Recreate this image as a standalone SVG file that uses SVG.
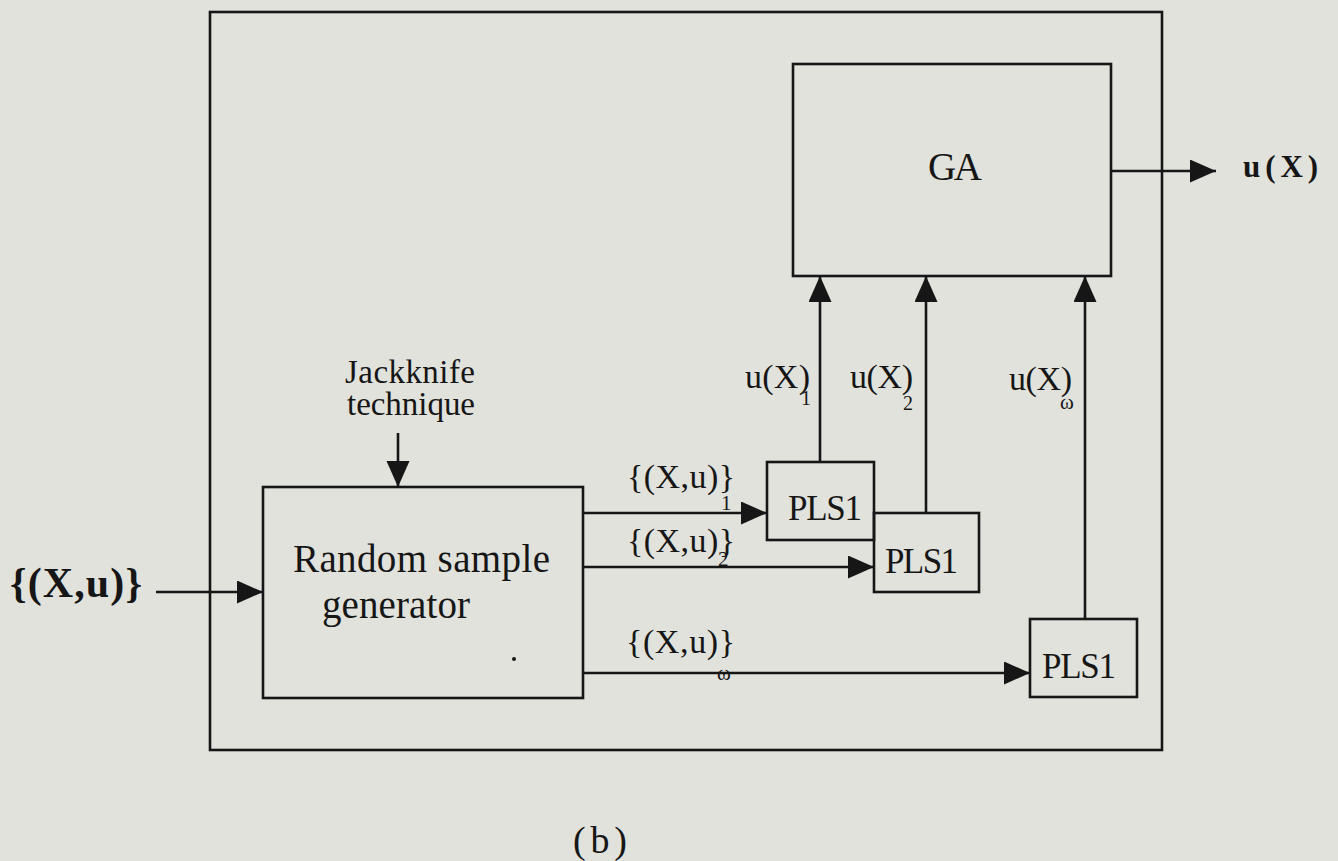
<svg xmlns="http://www.w3.org/2000/svg" width="1338" height="861" viewBox="0 0 1338 861">
  <style>
    .box { fill: none; stroke: #161616; stroke-width: 2.6; }
    .wire { fill: none; stroke: #161616; stroke-width: 2.6; }
    .t { font-family: "Liberation Serif", "Times New Roman", serif; fill: #161616; }
    .b { font-weight: bold; }
  </style>
  <defs>
    <marker id="head" markerUnits="userSpaceOnUse" markerWidth="28" markerHeight="24" refX="26" refY="11.5" orient="auto">
      <path d="M0,0 L26,11.5 L0,23 Z" fill="#161616"/>
    </marker>
  </defs>

  <rect width="1338" height="861" fill="#e1e2dc"/>

  <!-- enclosing frame -->
  <rect id="frame" class="box" x="210" y="12" width="952" height="738"/>

  <!-- nodes -->
  <g id="ga">
    <rect class="box" x="793" y="64" width="318" height="212"/>
    <text class="t" x="928" y="180" font-size="39" textLength="54">GA</text>
  </g>

  <g id="generator">
    <rect class="box" x="263" y="487" width="320" height="211"/>
    <text class="t" x="293" y="572" font-size="39" textLength="257">Random sample</text>
    <text class="t" x="322" y="618" font-size="39" textLength="148">generator</text>
    <circle cx="514" cy="659" r="2" fill="#161616"/>
  </g>

  <g id="pls1-a">
    <rect class="box" x="767" y="462" width="107" height="78"/>
    <text class="t" x="788" y="520" font-size="35" textLength="74">PLS1</text>
  </g>

  <g id="pls1-b">
    <rect class="box" x="874" y="513" width="105" height="79"/>
    <text class="t" x="885" y="573" font-size="35" textLength="73">PLS1</text>
  </g>

  <g id="pls1-c">
    <rect class="box" x="1030" y="619" width="107" height="78"/>
    <text class="t" x="1042" y="678" font-size="35" textLength="74">PLS1</text>
  </g>

  <!-- connectors -->
  <g id="connectors">
    <line class="wire" x1="156" y1="592" x2="263" y2="592" marker-end="url(#head)"/>
    <line class="wire" x1="398" y1="433" x2="398" y2="487" marker-end="url(#head)"/>
    <line class="wire" x1="583" y1="513" x2="767" y2="513" marker-end="url(#head)"/>
    <line class="wire" x1="583" y1="567" x2="874" y2="567" marker-end="url(#head)"/>
    <line class="wire" x1="583" y1="673" x2="1030" y2="673" marker-end="url(#head)"/>
    <line class="wire" x1="820" y1="462" x2="820" y2="276" marker-end="url(#head)"/>
    <line class="wire" x1="926" y1="513" x2="926" y2="276" marker-end="url(#head)"/>
    <line class="wire" x1="1085" y1="619" x2="1085" y2="276" marker-end="url(#head)"/>
    <line class="wire" x1="1111" y1="171" x2="1216" y2="171" marker-end="url(#head)"/>
  </g>

  <!-- labels -->
  <g id="labels">
    <text class="t b" x="10" y="597" font-size="42" textLength="132">{(X,u)}</text>
    <text class="t b" x="1243" y="177" font-size="31" textLength="75">u(X)</text>

    <text class="t" x="345" y="383" font-size="33" textLength="130">Jackknife</text>
    <text class="t" x="347" y="415" font-size="33" textLength="128">technique</text>

    <text class="t" x="627" y="488" font-size="34" textLength="108">{(X,u)}</text>
    <text class="t" x="721" y="510" font-size="21">1</text>
    <text class="t" x="627" y="552" font-size="34" textLength="108">{(X,u)}</text>
    <text class="t" x="718" y="566" font-size="21">2</text>
    <text class="t" x="626" y="653" font-size="34" textLength="109">{(X,u)}</text>
    <text class="t" x="717" y="680" font-size="21">ω</text>

    <text class="t" x="745" y="388" font-size="34" textLength="65">u(X)</text>
    <text class="t" x="801" y="405" font-size="20">1</text>
    <text class="t" x="850" y="388" font-size="34" textLength="63">u(X)</text>
    <text class="t" x="903" y="410" font-size="20">2</text>
    <text class="t" x="1009" y="390" font-size="34" textLength="63">u(X)</text>
    <text class="t" x="1060" y="409" font-size="21">ω</text>

    <text class="t" x="573" y="853" font-size="38" textLength="54">(b)</text>
  </g>
</svg>
